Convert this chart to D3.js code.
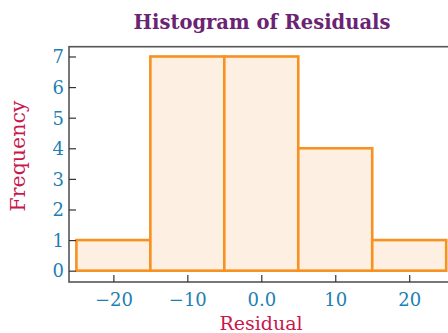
<!DOCTYPE html>
<html><head><meta charset="utf-8">
<script src="https://cdn.jsdelivr.net/npm/d3@7"></script>
<style>body{margin:0;background:#fff;overflow:hidden}</style>
</head><body>
<svg id="c" width="448" height="333"></svg>
<script>
const binStarts = [-25, -15, -5, 5, 15];
const binWidth = 10;
const counts = [1, 7, 7, 4, 1];
const xTicks = [-20, -10, 0, 10, 20];
const xTickLabels = ["\u221220", "\u221210", "0.0", "10", "20"];
const yTicks = [0, 1, 2, 3, 4, 5, 6, 7];

const svg = d3.select("#c");
const font = "'DejaVu Serif', 'Liberation Serif', serif";
const x = d3.scaleLinear().domain([-26, 26]).range([69, 453.6]);
const y = d3.scaleLinear().domain([-0.37, 7.32]).range([282, 46.7]);

const fill = "#fdefe1", stroke = "#f7911f", axisCol = "#555", tickCol = "#1f7fb2";

// bars
svg.selectAll("rect.bar").data(counts).enter().append("rect")
  .attr("class","bar")
  .attr("x",(d,i)=>x(binStarts[i]))
  .attr("width",(d,i)=>x(binStarts[i]+binWidth)-x(binStarts[i]))
  .attr("y",d=>y(d))
  .attr("height",d=>y(0)-y(d))
  .attr("fill",fill).attr("stroke",stroke).attr("stroke-width",2.6);

// frame
const [x0,x1] = x.range(), [y0,y1] = y.range();
svg.append("rect").attr("x",x0).attr("y",y1).attr("width",x1-x0).attr("height",y0-y1)
  .attr("fill","none").attr("stroke",axisCol).attr("stroke-width",1.6);

// y axis
const yAxis = d3.axisRight(y).tickValues(yTicks).tickSize(7).tickFormat(d3.format("d"));
const gy = svg.append("g").attr("transform",`translate(${x0},0)`).call(yAxis);
gy.select(".domain").remove();
gy.selectAll(".tick line").attr("stroke","#333").attr("stroke-width",1.2);
gy.selectAll(".tick text").attr("x",-5).attr("text-anchor","end").attr("dy","0.35em")
  .attr("fill",tickCol).style("font-family",font).style("font-size","18px");

// x axis
const xAxis = d3.axisTop(x).tickValues(xTicks).tickSize(7).tickFormat((d,i)=>xTickLabels[i]);
const gx = svg.append("g").attr("transform",`translate(0,${y0})`).call(xAxis);
gx.select(".domain").remove();
gx.selectAll(".tick line").attr("stroke","#333").attr("stroke-width",1.2);
gx.selectAll(".tick text").attr("y",24).attr("dy",0).attr("fill",tickCol)
  .style("font-family",font).style("font-size","18px");

// title
svg.append("text").attr("x",262).attr("y",29).attr("text-anchor","middle")
  .attr("fill","#6b2373").style("font-family",font).style("font-weight","bold").style("font-size","19.5px")
  .text("Histogram of Residuals");

// axis labels
svg.append("text").attr("x",261).attr("y",330).attr("text-anchor","middle")
  .attr("fill","#c8184c").style("font-family",font).style("font-size","19px").text("Residual");
svg.append("text").attr("transform","translate(25,156) rotate(-90)").attr("text-anchor","middle")
  .attr("fill","#c8184c").style("font-family",font).style("font-size","20.5px").text("Frequency");
</script>
</body></html>
